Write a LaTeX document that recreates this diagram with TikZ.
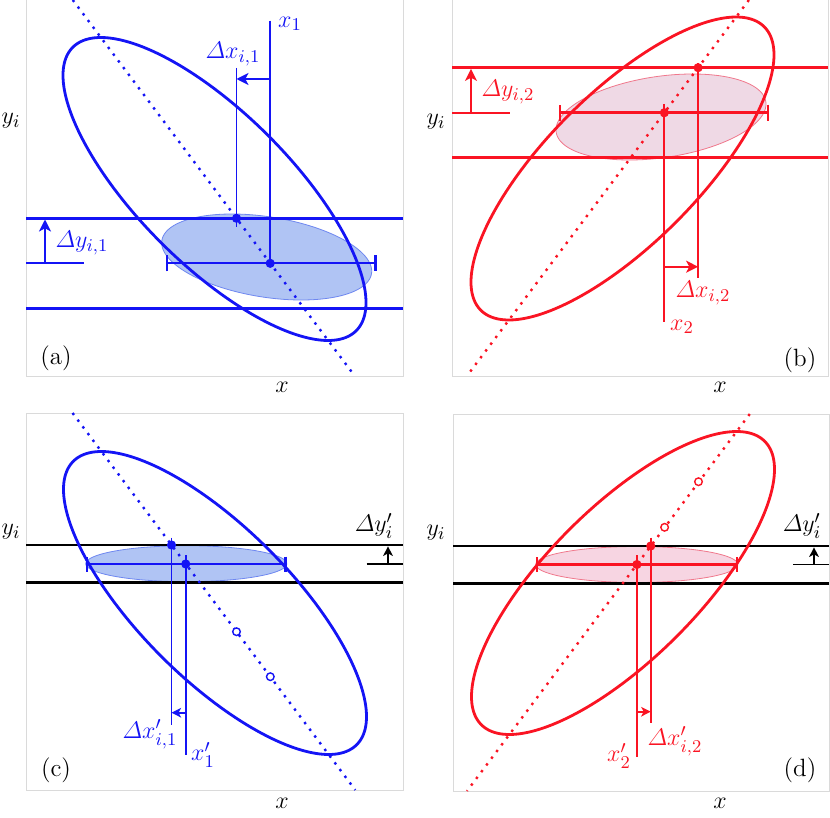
\documentclass[tikz,border=0pt]{standalone}
\usepackage{amsmath}
\usetikzlibrary{arrows.meta}
\definecolor{mblue}{RGB}{20,20,245}
\definecolor{mred}{RGB}{250,20,35}
\definecolor{ashade}{RGB}{176,196,244}
\definecolor{ashedge}{RGB}{110,135,240}
\definecolor{bshade}{RGB}{239,217,229}
\definecolor{dshade}{RGB}{247,213,226}
\definecolor{pshedge}{RGB}{240,120,140}
\definecolor{framegray}{RGB}{218,218,218}
\newcommand{\covEllipse}[6]{%
  \draw[#1] plot[domain=0:360,samples=181,variable=\t]
    ({#2+#4*cos(\t)},{#3+#5*((#6)*cos(\t)+sqrt(1-(#6)*(#6))*sin(\t))}) -- cycle;}
\tikzset{
  frame/.style={draw=framegray, line width=0.5pt},
  bigell/.style={line width=1.4pt},
  hline/.style={line width=1.4pt},
  vline/.style={line width=0.9pt},
  ebar/.style={line width=1.2pt, {Bar[width=8pt]}-{Bar[width=8pt]}},
  ebarsm/.style={line width=1.2pt, {Bar[width=7.5pt]}-{Bar[width=7.5pt]}},
  regline/.style={line width=1.2pt, dash pattern=on 1.2pt off 3pt},
  dotp/.style={circle, fill, inner sep=0pt, minimum size=4.6pt},
  ocirc/.style={circle, draw, line width=0.7pt, inner sep=0pt, minimum size=3.8pt},
  arr/.style={-{Stealth[length=6pt,width=6pt,inset=1.6pt]}, line width=0.9pt},
  arrsm/.style={-{Stealth[length=4.8pt,width=4.8pt,inset=1.3pt]}, line width=0.9pt},
  lbl/.style={inner sep=0pt, font=\fontsize{12.5}{15}\selectfont},
}
\begin{document}
\begin{tikzpicture}[x=0.5pt,y=-0.5pt]
\useasboundingbox (0,0) rectangle (830,818);

% ================= Panel (a) =================
\draw[frame] (26,-1) rectangle (403,376);
\covEllipse{fill=ashade, draw=ashedge, line width=0.4pt}{266.7}{257}{105}{43}{0.33}
\coordinate (aL1) at (26,218.3);  \coordinate (aR1) at (403,218.3);
\coordinate (aL2) at (26,308.3);  \coordinate (aR2) at (403,308.3);
\draw[hline,mblue] (aL1) -- (aR1);
\draw[hline,mblue] (aL2) -- (aR2);
\coordinate (abarL) at (165.5,263.3); \coordinate (abarR) at (376.5,263.3);
\draw[ebar,mblue] (abarL) -- (abarR);
\covEllipse{mblue,bigell}{214.5}{189}{151.5}{151.5}{0.75}
\coordinate (aregT) at (72.75,0); \coordinate (aregB) at (354.75,376);
\draw[regline,mblue] (aregT) -- (aregB);
\coordinate (aD1) at (236.5,218.3);
\coordinate (aD2) at (270.2,263.3);
\coordinate (aV1t) at (270.2,20.7);
\coordinate (aV2t) at (236.5,68); \coordinate (aV2b) at (236.5,226.7);
\draw[vline,mblue] (aV1t) -- (aD2);
\draw[vline,mblue] (aV2t) -- (aV2b);
\coordinate (aArS) at (270.2,79); \coordinate (aArE) at (236.5,79);
\draw[arr,mblue] (aArS) -- (aArE);
\node[dotp,mblue] (adot1) at (aD1) {};
\node[dotp,mblue] (adot2) at (aD2) {};
\coordinate (aYs) at (26,263.3); \coordinate (aYe) at (84,263.3);
\draw[vline,mblue] (aYs) -- (aYe);
\coordinate (aYa) at (45,263.3); \coordinate (aYb) at (45,219.5);
\draw[arr,mblue] (aYa) -- (aYb);
\node[lbl,mblue] (ax1) at (290,24) {$x_1$};
\node[lbl,mblue] (adx) at (233,54) {$\varDelta x_{i,1}$};
\node[lbl,mblue] (ady) at (82,243) {$\varDelta y_{i,1}$};
\node[lbl] (ayi) at (11,121) {$y_i$};
\node[lbl] (ax) at (282,387) {$x$};
\node[lbl] (alab) at (56,358) {(a)};

% ================= Panel (b) =================
\draw[frame] (452,-1) rectangle (828,376);
\covEllipse{fill=bshade, draw=pshedge, line width=0.4pt}{661}{117}{105}{43}{-0.3}
\coordinate (bL1) at (452,67.7);  \coordinate (bR1) at (828,67.7);
\coordinate (bL2) at (452,157.7); \coordinate (bR2) at (828,157.7);
\draw[hline,mred] (bL1) -- (bR1);
\draw[hline,mred] (bL2) -- (bR2);
\coordinate (bbarL) at (558.5,112.7); \coordinate (bbarR) at (769,112.7);
\draw[ebar,mred] (bbarL) -- (bbarR);
\covEllipse{mred,bigell}{622.5}{168.5}{151.5}{151.5}{-0.75}
\coordinate (bregT) at (748.9,0); \coordinate (bregB) at (466.9,376);
\draw[regline,mred] (bregT) -- (bregB);
\coordinate (bD1) at (698.1,67.7);
\coordinate (bD2) at (664.35,112.7);
\coordinate (bV2t) at (664.35,104); \coordinate (bV2b) at (664.35,321.7);
\coordinate (bV1t) at (698.1,63);   \coordinate (bV1b) at (698.1,278);
\draw[vline,mred] (bV2t) -- (bV2b);
\draw[vline,mred] (bV1t) -- (bV1b);
\coordinate (bArS) at (664.35,266.7); \coordinate (bArE) at (698.1,266.7);
\draw[arr,mred] (bArS) -- (bArE);
\node[dotp,mred] (bdot1) at (bD1) {};
\node[dotp,mred] (bdot2) at (bD2) {};
\coordinate (bYs) at (452,112.7); \coordinate (bYe) at (510,112.7);
\draw[vline,mred] (bYs) -- (bYe);
\coordinate (bYa) at (471,112.7); \coordinate (bYb) at (471,68.9);
\draw[arr,mred] (bYa) -- (bYb);
\node[lbl,mred] (bdy) at (508,92) {$\varDelta y_{i,2}$};
\node[lbl] (byi) at (436,122) {$y_i$};
\node[lbl,mred] (bdx) at (703,293) {$\varDelta x_{i,2}$};
\node[lbl,mred] (bx2) at (682,327) {$x_2$};
\node[lbl] (bx) at (720,387) {$x$};
\node[lbl] (blab) at (800,360) {(b)};

% ================= Panel (c) =================
\draw[frame] (26,413) rectangle (403,790);
\covEllipse{fill=ashade, draw=ashedge, line width=0.4pt}{186.3}{563.7}{100.5}{18}{0}
\coordinate (cL1) at (26,545);   \coordinate (cR1) at (403,545);
\coordinate (cL2) at (26,582.5); \coordinate (cR2) at (403,582.5);
\draw[hline,black] (cL1) -- (cR1);
\draw[hline,black] (cL2) -- (cR2);
\coordinate (cbarL) at (85.7,564); \coordinate (cbarR) at (286.5,564);
\draw[ebarsm,mblue] (cbarL) -- (cbarR);
\covEllipse{mblue,bigell}{215}{603}{151.5}{151.5}{0.75}
\coordinate (cregT) at (72.5,413); \coordinate (cregB) at (355.25,790);
\draw[regline,mblue] (cregT) -- (cregB);
\node[ocirc,mblue,fill=white] (co1) at (236.5,631.7) {};
\node[ocirc,mblue,fill=white] (co2) at (270.3,676.7) {};
\coordinate (cD1) at (171.5,545);
\coordinate (cD2) at (185.75,564);
\coordinate (cV1t) at (171.5,537.7);  \coordinate (cV1b) at (171.5,725);
\coordinate (cV2t) at (185.75,555);   \coordinate (cV2b) at (185.75,755);
\draw[vline,mblue] (cV1t) -- (cV1b);
\draw[vline,mblue] (cV2t) -- (cV2b);
\coordinate (cArS) at (185.75,712.7); \coordinate (cArE) at (171.5,712.7);
\draw[arrsm,mblue] (cArS) -- (cArE);
\node[dotp,mblue] (cdot1) at (cD1) {};
\node[dotp,mblue] (cdot2) at (cD2) {};
\coordinate (cYs) at (366.7,564); \coordinate (cYe) at (403,564);
\draw[vline,black] (cYs) -- (cYe);
\coordinate (cYa) at (388,564); \coordinate (cYb) at (388,546.3);
\draw[arrsm,black] (cYa) -- (cYb);
\node[lbl] (cyi) at (11,532) {$y_i$};
\node[lbl] (cdy) at (374,526) {$\varDelta y'_i$};
\node[lbl,mblue] (cdx) at (150,734) {$\varDelta x'_{i,1}$};
\node[lbl,mblue] (cx1) at (203,755) {$x'_1$};
\node[lbl] (cx) at (282,803) {$x$};
\node[lbl] (clab) at (56,770) {(c)};

% ================= Panel (d) =================
\draw[frame] (453,414) rectangle (829,791);
\covEllipse{fill=dshade, draw=pshedge, line width=0.4pt}{636.8}{564.5}{101}{18}{0}
\coordinate (dL1) at (453,546);   \coordinate (dR1) at (829,546);
\coordinate (dL2) at (453,583.5); \coordinate (dR2) at (829,583.5);
\draw[hline,black] (dL1) -- (dR1);
\draw[hline,black] (dL2) -- (dR2);
\coordinate (dbarL) at (535.5,564.5); \coordinate (dbarR) at (738,564.5);
\draw[ebarsm,mred] (dbarL) -- (dbarR);
\covEllipse{mred,bigell}{623}{583}{151.5}{151.5}{-0.75}
\coordinate (dregT) at (749.75,414); \coordinate (dregB) at (467,791);
\draw[regline,mred] (dregT) -- (dregB);
\node[ocirc,mred,fill=white] (do1) at (664.6,527.3) {};
\node[ocirc,mred,fill=white] (do2) at (698.5,481.7) {};
\coordinate (dD1) at (650.75,546);
\coordinate (dD2) at (636.9,564.5);
\coordinate (dV2t) at (636.9,555);   \coordinate (dV2b) at (636.9,756.7);
\coordinate (dV1t) at (650.75,537.7); \coordinate (dV1b) at (650.75,723.3);
\draw[vline,mred] (dV2t) -- (dV2b);
\draw[vline,mred] (dV1t) -- (dV1b);
\coordinate (dArS) at (636.9,711.7); \coordinate (dArE) at (650.75,711.7);
\draw[arrsm,mred] (dArS) -- (dArE);
\node[dotp,mred] (ddot1) at (dD1) {};
\node[dotp,mred] (ddot2) at (dD2) {};
\coordinate (dYs) at (793,564.5); \coordinate (dYe) at (829,564.5);
\draw[vline,black] (dYs) -- (dYe);
\coordinate (dYa) at (814,564.5); \coordinate (dYb) at (814,547.3);
\draw[arrsm,black] (dYa) -- (dYb);
\node[lbl] (dyi) at (436,533) {$y_i$};
\node[lbl] (ddy) at (802,526) {$\varDelta y'_i$};
\node[lbl,mred] (ddx) at (675,741) {$\varDelta x'_{i,2}$};
\node[lbl,mred] (dx2) at (619,756) {$x'_2$};
\node[lbl] (dx) at (720,803) {$x$};
\node[lbl] (dlab) at (800,770) {(d)};
\end{tikzpicture}
\end{document}
